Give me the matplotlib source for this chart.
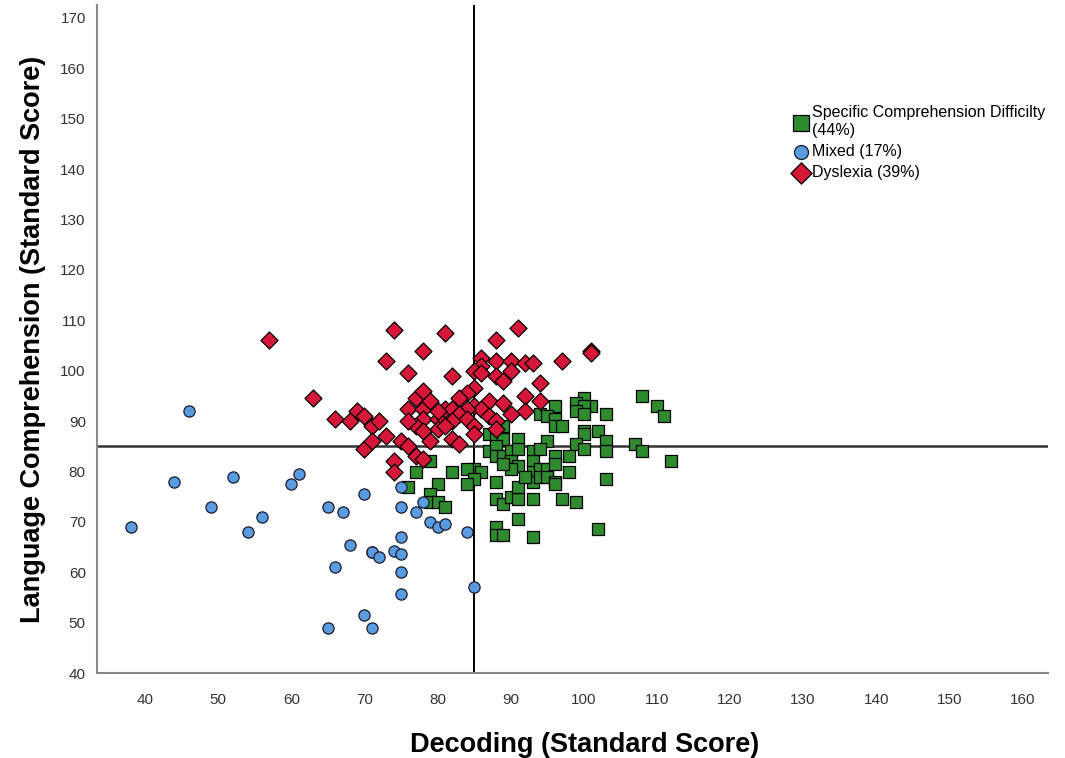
import numpy as np
import matplotlib.pyplot as plt

# decoding / language comprehension standard scores per group
scd_x = [100, 99, 101, 100, 99, 100, 103, 96, 94, 95, 96, 96, 97, 108, 110, 111, 100, 102,
         89, 87, 88, 89, 91, 95, 100, 99, 103, 107, 100, 103, 108, 112, 87, 88, 88, 89,
         90, 90, 91, 91, 90, 89, 93, 93, 93, 93, 94, 94, 95, 95, 96, 96, 96, 98, 98, 103,
         96, 85, 86, 84, 85, 84, 79, 77, 82, 80, 76, 79, 79, 80, 81, 88, 88, 89, 90, 91,
         91, 93, 91, 88, 88, 89, 93, 97, 99, 102, 94, 92]
scd_y = [94.5, 93.5, 93, 93, 92, 91.5, 91.5, 93, 91.5, 91, 90.5, 89, 89, 95, 93, 91, 88, 88,
         89, 87.5, 86.5, 86.5, 86.5, 86, 87.5, 85.5, 86, 85.5, 84.5, 84, 84, 82, 84, 85, 83, 83,
         84, 82, 84.5, 81, 80.5, 81.5, 84, 82, 80, 78, 80.5, 79, 80.5, 79, 83, 81.5, 78, 83, 80, 78.5,
         77.5, 80.5, 80, 80.5, 78.5, 77.5, 82, 80, 80, 77.5, 77, 75.5, 74, 74, 73, 78, 74.5, 73.5, 75, 74.5,
         77, 74.5, 70.5, 69, 67.5, 67.5, 67, 74.5, 74, 68.5, 84.5, 79]

mixed_x = [38, 44, 46, 49, 52, 54, 56, 60, 61, 65, 67, 68, 66, 70, 65, 70, 71, 71, 71,
           72, 74, 75, 75, 75, 75, 75, 75, 77, 78, 79, 80, 81, 84, 85]
mixed_y = [69, 78, 92, 73, 79, 68, 71, 77.5, 79.5, 73, 72, 65.5, 61, 75.5, 49, 51.5, 49, 64, 64,
           63, 64.3, 63.7, 60, 55.6, 67, 73, 77, 72, 74, 70, 69, 69.5, 68, 57]

dys_x = [57, 63, 66, 68, 69, 70, 71, 73, 75, 70, 71, 74, 74, 77, 78, 76, 76, 77, 78, 78,
         78, 77, 76, 78, 80, 80, 81, 74, 73, 78, 81, 76, 82, 91, 88, 101, 97, 86, 88, 90,
         92, 93, 90, 86, 85, 88, 89, 94, 85, 84, 83, 92, 94, 87, 89, 85, 86, 84, 82, 92,
         90, 83, 87, 82, 84, 88, 85, 88, 85, 82, 83, 80, 79, 72, 101, 86, 79, 81]
dys_y = [106, 94.5, 90.5, 90, 92, 91, 89, 87, 86, 84.5, 86, 82, 80, 83, 82.5, 85, 92.5, 94.5, 96, 92.5,
         90.5, 89, 90, 88, 90.5, 88.5, 92.5, 108, 102, 104, 107.5, 99.5, 99, 108.5, 106, 104, 102, 102.5, 102, 102,
         101.5, 101.5, 100, 101, 100, 99, 98, 97.5, 96.5, 95.5, 94.5, 95, 94, 94, 93.5, 93, 92.5, 92.5, 92.5, 92,
         91.5, 91.5, 91, 90, 90.5, 90, 89, 88.5, 87.5, 86.5, 85.5, 92, 94, 90, 103.5, 99.5, 86, 89]

plt.rcParams['font.family'] = ['Liberation Sans', 'DejaVu Sans']

fig = plt.figure(figsize=(10.65, 7.58), dpi=100)
ax = fig.add_axes([0.091, 0.112, 0.893, 0.881])

ax.axvline(85, color='black', lw=1.4, zorder=1)
ax.axhline(85, color='#333333', lw=1.8, zorder=1)

ax.scatter(scd_x, scd_y, marker='s', s=75, color='#2e8b2e', edgecolor='black', lw=0.9,
           label='Specific Comprehension Difficilty\n(44%)', zorder=3)
ax.scatter(mixed_x, mixed_y, marker='o', s=65, color='#5b9be0', edgecolor='#1a1a2e', lw=0.9,
           label='Mixed (17%)', zorder=3)
ax.scatter(dys_x, dys_y, marker='D', s=75, color='#d6173a', edgecolor='black', lw=0.9,
           label='Dyslexia (39%)', zorder=3)

ax.set_xlim(33.4, 163.5)
ax.set_ylim(40, 172.5)
ax.set_xticks(np.arange(40, 161, 10))
ax.set_yticks(np.arange(40, 171, 10))
ax.tick_params(axis='y', length=0, labelsize=11, labelcolor='#333333', pad=8)
ax.tick_params(axis='x', length=0, labelsize=11, labelcolor='#333333', pad=14)

for side in ['top', 'right']:
    ax.spines[side].set_visible(False)
for side in ['left', 'bottom']:
    ax.spines[side].set_color('#888888')
    ax.spines[side].set_linewidth(1.5)

ax.set_xlabel('Decoding (Standard Score)', fontsize=19.5, fontweight='bold')
ax.xaxis.set_label_coords(0.513, -0.088)
ax.set_ylabel('Language Comprehension (Standard Score)', fontsize=19.5, fontweight='bold', labelpad=10)

ax.legend(loc='upper left', bbox_to_anchor=(0.722, 0.862), frameon=False, fontsize=11.5,
          handletextpad=0.05, labelspacing=0.38, borderpad=0, handlelength=1.2, markerscale=1.25)

fig.savefig('out.png', dpi=100)
